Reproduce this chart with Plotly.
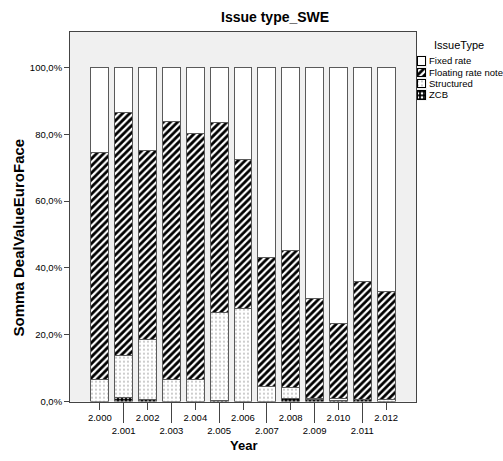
import plotly.graph_objects as go

# ---- data (share of DealValueEuroFace per issue type, %) ----
years = [2000, 2001, 2002, 2003, 2004, 2005, 2006, 2007, 2008, 2009, 2010, 2011, 2012]
year_labels = ["2.000", "2.001", "2.002", "2.003", "2.004", "2.005", "2.006",
               "2.007", "2.008", "2.009", "2.010", "2.011", "2.012"]
zcb = [0.0, 1.1, 0.5, 0.0, 0.0, 0.4, 0.0, 0.0, 0.8, 0.6, 0.3, 0.5, 0.0]
structured = [6.5, 12.7, 18.2, 6.5, 6.5, 26.3, 28.0, 4.5, 3.5, 0.3, 0.5, 0.0, 0.5]
floating = [68.1, 72.7, 56.4, 77.2, 73.7, 56.7, 44.5, 38.5, 40.9, 30.0, 22.7, 35.5, 32.5]
fixed = [25.4, 13.5, 24.9, 16.3, 19.8, 16.6, 27.5, 57.0, 54.8, 69.1, 76.5, 64.0, 67.0]

series_names = ["Fixed rate", "Floating rate note", "Structured", "ZCB"]
y_tick_vals = [0, 20, 40, 60, 80, 100]
y_tick_text = ["0,0%", "20,0%", "40,0%", "60,0%", "80,0%", "100,0%"]

# ---- figure geometry (pixels) ----
W, H = 503, 461
PX0, PX1 = 70, 416      # plot area left / right
PY0, PY1 = 32, 406      # plot area top / bottom


def px_x(v):
    return v / W


def px_y(v):
    return 1 - v / H


FONT = "Liberation Sans, Arial, sans-serif"
EDGE = "#5a5a5a"

styles = {
    "Fixed rate": dict(color="white", pattern=dict(shape="")),
    "Floating rate note": dict(color="white", pattern=dict(
        shape="/", fgcolor="black", bgcolor="white", size=5, solidity=0.55, fillmode="replace")),
    "Structured": dict(color="white", pattern=dict(
        shape=".", fgcolor="#8a8a8a", bgcolor="white", size=4, solidity=0.12, fillmode="replace")),
    "ZCB": dict(color="black", pattern=dict(
        shape=".", fgcolor="white", bgcolor="black", size=4, solidity=0.35, fillmode="replace")),
}
values = {"Fixed rate": fixed, "Floating rate note": floating,
          "Structured": structured, "ZCB": zcb}

fig = go.Figure()

# stacked bars, bottom to top
for name in ["ZCB", "Structured", "Floating rate note", "Fixed rate"]:
    st = styles[name]
    fig.add_trace(go.Bar(
        x=years, y=values[name], name=name, width=0.75,
        marker=dict(color=st["color"], pattern=st["pattern"],
                    line=dict(color=EDGE, width=1)),
        showlegend=False,
    ))

# legend swatches drawn on a small auxiliary axis
for i, name in enumerate(series_names):
    st = styles[name]
    fig.add_trace(go.Bar(
        x=[1], y=[i], orientation="h", width=0.72, xaxis="x3", yaxis="y3",
        marker=dict(color=st["color"], pattern=st["pattern"],
                    line=dict(color="black", width=1)),
        showlegend=False, hoverinfo="skip",
    ))

even_idx = [i for i, y in enumerate(years) if y % 2 == 0]
odd_idx = [i for i, y in enumerate(years) if y % 2 == 1]

xrange = [years[0] - 1.25, years[-1] + 1.25]

fig.update_layout(
    width=W, height=H,
    margin=dict(l=0, r=0, t=0, b=0),
    paper_bgcolor="white",
    plot_bgcolor="#f0f0f0",
    barmode="stack",
    font=dict(family=FONT, size=10, color="black"),
    xaxis=dict(
        domain=[px_x(PX0), px_x(PX1)], range=xrange, anchor="y",
        tickvals=[years[i] for i in even_idx], ticktext=[year_labels[i] for i in even_idx],
        ticks="outside", ticklen=7, tickcolor="#444", tickfont=dict(size=9.5),
        showline=True, linecolor="#444", linewidth=1, mirror=True,
        showgrid=False, zeroline=False,
    ),
    xaxis2=dict(
        overlaying="x", matches="x", anchor="y", side="bottom", range=xrange,
        tickvals=[years[i] for i in odd_idx], ticktext=[year_labels[i] for i in odd_idx],
        ticks="outside", ticklen=20, tickcolor="#444", tickfont=dict(size=9.5),
        showline=False, showgrid=False, zeroline=False,
    ),
    yaxis=dict(
        domain=[px_y(PY1), px_y(PY0)], range=[0, 110.7],
        tickvals=y_tick_vals, ticktext=y_tick_text,
        ticks="outside", ticklen=5, tickcolor="#444", tickfont=dict(size=9.5),
        showline=True, linecolor="#444", linewidth=1, mirror=True,
        showgrid=False, zeroline=False,
    ),
    xaxis3=dict(domain=[px_x(416), px_x(427)], range=[-0.12, 1.12], anchor="y3",
                visible=False, fixedrange=True),
    yaxis3=dict(domain=[px_y(101.7), px_y(56)], range=[3.5, -0.5], anchor="x3",
                side="right", tickvals=list(range(len(series_names))), ticktext=series_names,
                ticks="", showline=False, showgrid=False, zeroline=False,
                tickfont=dict(size=9.5), ticklabelstandoff=1, fixedrange=True),
    annotations=[
        dict(text="<b>Issue type_SWE</b>", x=px_x(275), y=px_y(17), xref="paper", yref="paper",
             showarrow=False, font=dict(size=14), xanchor="center", yanchor="middle"),
        dict(text="<b>Somma DealValueEuroFace</b>", x=px_x(18), y=px_y(240), xref="paper",
             yref="paper", showarrow=False, textangle=-90, font=dict(size=15),
             xanchor="center", yanchor="middle"),
        dict(text="<b>Year</b>", x=px_x(243), y=px_y(450), xref="paper", yref="paper",
             showarrow=False, font=dict(size=13), xanchor="center", yanchor="middle"),
        dict(text="IssueType", x=px_x(459), y=px_y(45), xref="paper", yref="paper",
             showarrow=False, font=dict(size=11), xanchor="center", yanchor="middle"),
    ],
)

# attach an invisible trace so the odd-year axis is rendered
fig.add_trace(go.Scatter(x=[years[0]], y=[0], xaxis="x2", yaxis="y", mode="markers",
                         marker=dict(opacity=0), showlegend=False, hoverinfo="skip"))

fig.write_html("out.html")
